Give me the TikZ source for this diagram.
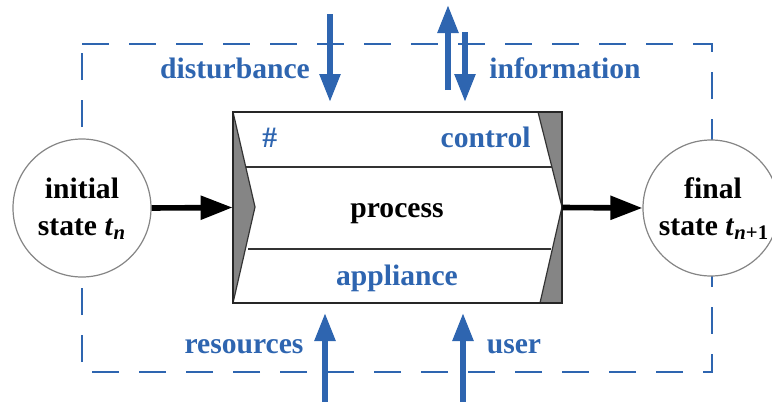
\documentclass[tikz,border=0pt]{standalone}
\usepackage{fontspec}
\setmainfont{Liberation Serif}
\usetikzlibrary{arrows.meta}
\definecolor{myblue}{HTML}{2E65B0}
\definecolor{mygray}{HTML}{858585}
\begin{document}
\begin{tikzpicture}[x=0.5pt,y=-0.5pt,
  lbl/.style={font=\fontsize{14.8}{17}\selectfont\bfseries, inner sep=0pt},
  bluelbl/.style={lbl, text=myblue},
  bluearrow/.style={draw=myblue, line width=2.8pt, -{Triangle[length=14pt,width=10pt]}},
  blackarrow/.style={draw=black, line width=2.8pt, -{Triangle[length=16pt,width=11.5pt]}},
  statecircle/.style={circle, draw=mygray, line width=0.6pt, fill=white, inner sep=0pt},
  frame/.style={draw=myblue, line width=0.85pt, dash pattern=on 13.5pt off 10pt}
]
\useasboundingbox (0,0) rectangle (772,402);
% dashed system boundary
\draw[frame] (82,44) -- (712,44) -- (712,372) -- (82,372) -- cycle;
% circles
\node[statecircle, minimum size=69pt] (init) at (82,208) {};
\node[statecircle, minimum size=68pt] (final) at (711,208) {};
\node[lbl, anchor=base] (initA) at (82,198) {initial};
\node[lbl, anchor=base] (initB) at (82,235) {state \textit{t}\textsubscript{\textit{n}}};
\node[lbl, anchor=base] (finA) at (713,198) {final};
\node[lbl, anchor=base] (finB) at (714,235) {state \textit{t}\textsubscript{\textit{n}+1}};
% process box
\node[draw=none, minimum width=164.5pt, minimum height=95.5pt, inner sep=0pt] (box) at (397.5,207.5) {};
\fill[mygray] (233,112) rectangle (562,303);
\filldraw[fill=white, draw=black!80, line width=0.6pt]
  (233,112) -- (538,112) -- (562,207) -- (540,303) -- (233,303) -- (255,207) -- cycle;
\draw[black!80, line width=0.6pt] (245.7,167) -- (552,167);
\draw[black!80, line width=0.6pt] (248,249) -- (551.3,249);
\draw[black!85, line width=1pt] (233,112) rectangle (562,303);
\node[bluelbl, anchor=base west] (hash) at (262,147) {\#};
\node[bluelbl, anchor=base east] (ctrl) at (531,147) {control};
\node[lbl, anchor=base] (proc) at (397,217) {process};
\node[bluelbl, anchor=base] (appl) at (397,285) {appliance};
% state arrows
\draw[blackarrow] (init.east) -- (box.west);
\draw[blackarrow] (box.east) -- (final.west);
% blue labels
\node[bluelbl, anchor=base] (dist) at (235,78) {disturbance};
\node[bluelbl, anchor=base] (info) at (565,78) {information};
\node[bluelbl, anchor=base] (res) at (244,353) {resources};
\node[bluelbl, anchor=base] (user) at (514,353) {user};
% blue arrows
\coordinate (d0) at (330,14);   \coordinate (d1) at (330,102);
\coordinate (iu0) at (448,90);  \coordinate (iu1) at (448,5);
\coordinate (id0) at (465,32);  \coordinate (id1) at (465,102);
\coordinate (r0) at (325,402);  \coordinate (r1) at (325,313);
\coordinate (u0) at (463,402);  \coordinate (u1) at (463,313);
\draw[bluearrow] (d0) -- (d1);
\draw[bluearrow] (iu0) -- (iu1);
\draw[bluearrow] (id0) -- (id1);
\draw[bluearrow] (r0) -- (r1);
\draw[bluearrow] (u0) -- (u1);
\end{tikzpicture}
\end{document}
